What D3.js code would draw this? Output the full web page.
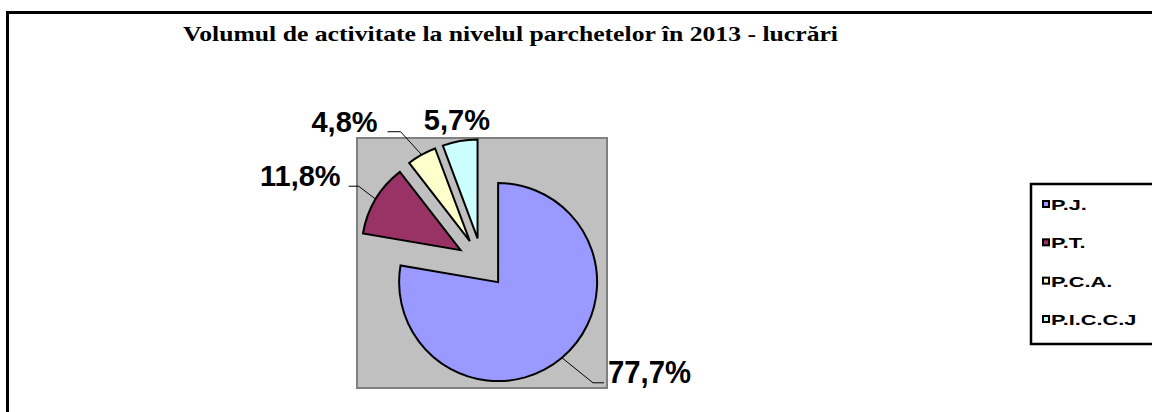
<!DOCTYPE html>
<html>
<head>
<meta charset="utf-8">
<script src="https://cdn.jsdelivr.net/npm/d3@7"></script>
<style>
  html, body { margin: 0; padding: 0; background: #fff; }
  svg { display: block; }
</style>
</head>
<body>
<svg id="chart" width="1152" height="412"></svg>
<script>
// Categories and their shares of the workload (%)
const categories = ["P.J.", "P.T.", "P.C.A.", "P.I.C.C.J"];
const shares = [77.7, 11.8, 4.8, 5.7];
const sliceColors = ["#9999FF", "#993366", "#FFFFCC", "#CCFFFF"];
const chartTitle = "Volumul de activitate la nivelul parchetelor în 2013 - lucrări";

// Label placement relative to each slice's outer mid-point
const labelLayout = [
  { text: [46, 25], elbow: [31, 25], end: [42, 25], anchor: "start", size: 31 },
  { text: [-35, -13], elbow: [-17, -13], end: [-27, -13], anchor: "end", size: 29 },
  { text: [-44, -23], elbow: [-21, -23], end: [-34, -23], anchor: "end", size: 29 },
  { text: [-3, -11], elbow: null, end: null, anchor: "middle", size: 29 }
];

const svg = d3.select("#chart");
const W = 1152, H = 412;

// Outer chart frame (runs off the right and bottom edges)
svg.append("rect")
  .attr("x", 7.5).attr("y", 12.5)
  .attr("width", W + 20).attr("height", H + 20)
  .attr("fill", "#fff").attr("stroke", "#000").attr("stroke-width", 3);

// Title
svg.append("text")
  .attr("x", 183).attr("y", 41)
  .attr("font-family", "'Liberation Serif', 'Times New Roman', serif")
  .attr("font-weight", "bold")
  .attr("font-size", 22)
  .attr("textLength", 655)
  .attr("lengthAdjust", "spacingAndGlyphs")
  .text(chartTitle);

// Plot area
const plot = { x: 357, y: 138, size: 250 };
svg.append("rect")
  .attr("x", plot.x).attr("y", plot.y)
  .attr("width", plot.size).attr("height", plot.size)
  .attr("fill", "#C0C0C0").attr("stroke", "#808080").attr("stroke-width", 2);

const cx = plot.x + plot.size / 2;
const cy = plot.y + plot.size / 2;
const radius = 99;
const explode = 25;

const pie = d3.pie().sort(null).value(d => d);
const arcs = pie(shares);
const arc = d3.arc().innerRadius(0).outerRadius(radius);

const midAngle = d => (d.startAngle + d.endAngle) / 2;
const dir = a => [Math.sin(a), -Math.cos(a)];

const g = svg.append("g").attr("transform", `translate(${cx},${cy})`);

const slices = g.selectAll("g.slice").data(arcs).enter().append("g")
  .attr("class", "slice")
  .attr("transform", d => {
    const [dx, dy] = dir(midAngle(d));
    return `translate(${dx * explode},${dy * explode})`;
  });

slices.append("path")
  .attr("d", arc)
  .attr("fill", (d, i) => sliceColors[i])
  .attr("stroke", "#000")
  .attr("stroke-width", 2)
  .attr("stroke-linejoin", "miter");

// Data labels with leader lines
const fmt = v => d3.format(".1f")(v).replace(".", ",") + "%";
arcs.forEach((d, i) => {
  const [ux, uy] = dir(midAngle(d));
  const px = cx + ux * (explode + radius);
  const py = cy + uy * (explode + radius);
  const L = labelLayout[i];
  if (L.elbow) {
    svg.append("polyline")
      .attr("points", [[px, py], [px + L.elbow[0], py + L.elbow[1]], [px + L.end[0], py + L.end[1]]]
        .map(p => p.join(",")).join(" "))
      .attr("fill", "none").attr("stroke", "#000").attr("stroke-width", 1);
  }
  const t = svg.append("text")
    .attr("x", px + L.text[0]).attr("y", py + L.text[1])
    .attr("text-anchor", L.anchor)
    .attr("font-family", "'Liberation Sans', Arial, sans-serif")
    .attr("font-weight", "bold")
    .attr("font-size", L.size)
    .text(fmt(shares[i]));
  if (i === 0) t.attr("textLength", 83).attr("lengthAdjust", "spacingAndGlyphs");
});

// Legend
const legend = svg.append("g");
legend.append("rect")
  .attr("x", 1031).attr("y", 184)
  .attr("width", 140).attr("height", 160)
  .attr("fill", "#fff").attr("stroke", "#000").attr("stroke-width", 2.5);

const rowY = d3.scalePoint().domain(categories).range([210, 325]);
categories.forEach((c, i) => {
  const y = rowY(c);
  legend.append("rect")
    .attr("x", 1043).attr("y", y - 9)
    .attr("width", 6).attr("height", 6)
    .attr("fill", sliceColors[i]).attr("stroke", "#000").attr("stroke-width", 2);
  const t = legend.append("text")
    .attr("x", 1051).attr("y", y)
    .attr("font-family", "'Liberation Sans', Arial, sans-serif")
    .attr("font-weight", "bold")
    .attr("font-size", 15)
    .text(c);
  const w = t.node().getComputedTextLength();
  t.attr("textLength", w * 1.45).attr("lengthAdjust", "spacingAndGlyphs");
});
</script>
</body>
</html>
